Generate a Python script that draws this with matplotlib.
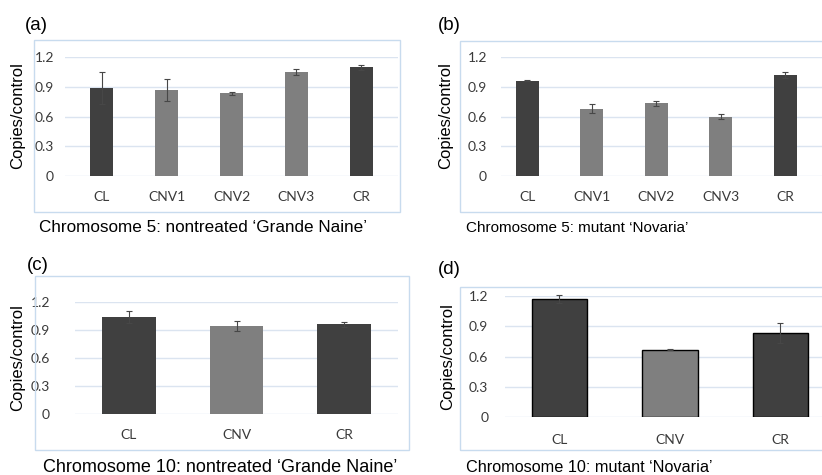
import matplotlib.pyplot as plt
from matplotlib.patches import Rectangle

# data
cats5 = ['CL', 'CNV1', 'CNV2', 'CNV3', 'CR']
cats3 = ['CL', 'CNV', 'CR']

a_vals = [0.89, 0.87, 0.835, 1.045, 1.095]
a_err = [0.16, 0.11, 0.015, 0.03, 0.025]
b_vals = [0.963, 0.68, 0.735, 0.598, 1.02]
b_err = [0.005, 0.045, 0.025, 0.025, 0.03]
c_vals = [1.043, 0.943, 0.961]
c_err = [0.065, 0.05, 0.025]
d_vals = [1.17, 0.667, 0.836]
d_err = [0.035, 0.005, 0.1]

a_cols = ['dark', 'light', 'light', 'light', 'dark']
c_cols = ['dark', 'light', 'dark']

captions = ["Chromosome 5: nontreated \u2018Grande Naine\u2019",
            "Chromosome 5: mutant \u2018Novaria\u2019",
            "Chromosome 10: nontreated \u2018Grande Naine\u2019",
            "Chromosome 10: mutant \u2018Novaria\u2019"]
letters = ['(a)', '(b)', '(c)', '(d)']
yticks = [0, 0.3, 0.6, 0.9, 1.2]
ytick_labels = ['0', '0.3', '0.6', '0.9', '1.2']

W, H = 822, 475
DARK = '#404040'
LIGHT = '#7f7f7f'
GRID = '#dbe4f0'
FRAME = '#c8dbee'
tick_font = 'Lato'
text_font = 'Liberation Sans'

fig = plt.figure(figsize=(W / 100, H / 100), dpi=100)


def px_axes(left, top, right, bottom):
    return fig.add_axes([left / W, 1 - bottom / H, (right - left) / W, (bottom - top) / H])


def frame(left, top, right, bottom):
    fig.patches.append(Rectangle((left / W, 1 - bottom / H), (right - left) / W, (bottom - top) / H,
                                 transform=fig.transFigure, fill=False, edgecolor=FRAME, lw=1.0))


def panel(box, cats, vals, err, cols, width, xlim, ypad, xpad, edge=None):
    ax = px_axes(*box)
    x = list(range(len(cats)))
    colors = [DARK if c == 'dark' else LIGHT for c in cols]
    ax.bar(x, vals, width=width, color=colors, zorder=2,
           edgecolor=edge if edge else 'none', linewidth=1.0 if edge else 0)
    ax.errorbar(x, vals, yerr=err, fmt='none', ecolor='#474747', elinewidth=0.8,
                capsize=2.5, capthick=0.8, zorder=3, clip_on=False)
    ax.set_xlim(*xlim)
    ax.set_ylim(0, 1.2)
    ax.set_yticks(yticks)
    ax.set_yticklabels(ytick_labels, fontsize=10, family=tick_font, color='#3a3a3a')
    ax.set_xticks(x)
    ax.set_xticklabels(cats, fontsize=10, family=tick_font, color='#3a3a3a')
    ax.tick_params(length=0)
    ax.tick_params(axis='y', pad=ypad)
    ax.tick_params(axis='x', pad=xpad)
    for s in ax.spines.values():
        s.set_visible(False)
    ax.yaxis.grid(True, color=GRID, lw=1.0, zorder=0)
    ax.set_axisbelow(True)
    ax.patch.set_alpha(0)
    return ax


# (a)
frame(34, 40, 400, 212)
panel((65, 57, 398, 176), cats5, a_vals, a_err, a_cols, 0.355, (-0.571, 4.571), 8, 11)
# (b)
frame(460, 41, 830, 212)
panel((501, 57, 822, 176), cats5, b_vals, b_err, a_cols, 0.357, (-0.41, 4.566), 10, 11)
# (c)
frame(35, 276, 409, 450)
panel((75, 302, 398, 414), cats3, c_vals, c_err, c_cols, 0.5, (-0.502, 2.502), 18, 11)
# (d)
frame(460, 287, 830, 450)
panel((505, 296, 822, 417), cats3, d_vals, d_err, c_cols, 0.5, (-0.493, 2.376), 12, 12,
      edge='black')

# y labels, panel letters and captions
for xl, yc in [(18, 116), (446, 116), (18, 358), (448, 357)]:
    fig.text(xl / W, 1 - yc / H, 'Copies/control', rotation=90, ha='center', va='center',
             fontsize=12, family=text_font)
for (xl, yc), t in zip([(25, 26), (438, 26), (27, 266), (438, 270)], letters):
    fig.text(xl / W, 1 - yc / H, t, ha='left', va='center', fontsize=13.5, family=text_font)
cap_pos = [(39, 228), (466, 228), (43, 467), (466, 467)]
cap_size = [12.3, 11.0, 13.0, 11.7]
for (xl, yc), t, fs in zip(cap_pos, captions, cap_size):
    fig.text(xl / W, 1 - yc / H, t, ha='left', va='center', fontsize=fs, family=text_font)

fig.savefig('out.png', dpi=100)
